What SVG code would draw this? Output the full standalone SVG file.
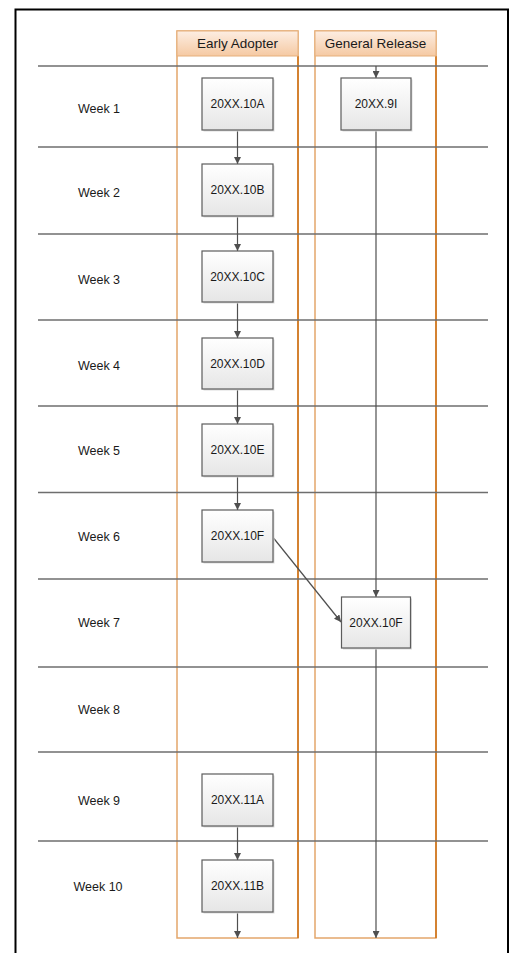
<svg xmlns="http://www.w3.org/2000/svg" width="510" height="953" viewBox="0 0 510 953">
<style>
text{font-family:"Liberation Sans",Arial,sans-serif;fill:#1a1a1a}
.wk{font-size:12.5px;text-anchor:middle}
.bx{font-size:12px;text-anchor:middle}
.hd{font-size:13.5px;text-anchor:middle}
.row{stroke:#6e6e6e;stroke-width:1.5}
.box{fill:url(#boxg);stroke:#5c5c5c;stroke-width:1.2}
.shd{fill:#dcdcdc}
.lane{fill:none;stroke:#e3a66b;stroke-width:1.5}
.laneR{stroke:#cc6f12;stroke-width:1.5}
.hdr{fill:url(#hdg);stroke:#e6b07c;stroke-width:1}
.con{stroke:#4f4f4f;stroke-width:1.2;fill:none;marker-end:url(#ah)}
</style>
<defs>
<linearGradient id="boxg" x1="0" y1="0" x2="0" y2="1"><stop offset="0" stop-color="#ffffff"/><stop offset="1" stop-color="#e6e6e6"/></linearGradient>
<linearGradient id="hdg" x1="0" y1="0" x2="0" y2="1"><stop offset="0" stop-color="#fdeee2"/><stop offset="1" stop-color="#f5c9a3"/></linearGradient>
<marker id="ah" viewBox="0 0 10 10" refX="10" refY="5" markerWidth="7" markerHeight="7" markerUnits="userSpaceOnUse" orient="auto"><path d="M0,0 L10,5 L0,10 z" fill="#4f4f4f"/></marker>
</defs>
<rect x="0" y="0" width="510" height="953" fill="#ffffff"/>
<rect x="15.5" y="9.5" width="492.5" height="960" fill="none" stroke="#000" stroke-width="2"/>
<g id="lane-early">
<rect class="lane" x="177" y="31" width="121" height="907"/>
<line class="laneR" x1="298" y1="56" x2="298" y2="938"/>
<rect class="hdr" x="177" y="31" width="121" height="25"/>
<text class="hd" x="237.5" y="48">Early Adopter</text>
</g>
<g id="lane-general">
<rect class="lane" x="315" y="31" width="121" height="907"/>
<line class="laneR" x1="436" y1="56" x2="436" y2="938"/>
<rect class="hdr" x="315" y="31" width="121" height="25"/>
<text class="hd" x="375.5" y="48">General Release</text>
</g>
<g id="rows">
<line class="row" x1="38" y1="66" x2="488" y2="66"/>
<line class="row" x1="38" y1="147" x2="488" y2="147"/>
<line class="row" x1="38" y1="234" x2="488" y2="234"/>
<line class="row" x1="38" y1="320" x2="488" y2="320"/>
<line class="row" x1="38" y1="406" x2="488" y2="406"/>
<line class="row" x1="38" y1="492.5" x2="488" y2="492.5"/>
<line class="row" x1="38" y1="579" x2="488" y2="579"/>
<line class="row" x1="38" y1="667" x2="488" y2="667"/>
<line class="row" x1="38" y1="752" x2="488" y2="752"/>
<line class="row" x1="38" y1="841" x2="488" y2="841"/>
</g>
<g id="week-labels">
<text class="wk" x="99" y="113">Week 1</text>
<text class="wk" x="99" y="197">Week 2</text>
<text class="wk" x="99" y="284">Week 3</text>
<text class="wk" x="99" y="370">Week 4</text>
<text class="wk" x="99" y="455">Week 5</text>
<text class="wk" x="99" y="541">Week 6</text>
<text class="wk" x="99" y="627">Week 7</text>
<text class="wk" x="99" y="714">Week 8</text>
<text class="wk" x="99" y="805">Week 9</text>
<text class="wk" x="98" y="891">Week 10</text>
</g>
<g id="connectors">
<line class="con" x1="376" y1="66" x2="376" y2="78"/>
<line class="con" x1="237.5" y1="131" x2="237.5" y2="164"/>
<line class="con" x1="237.5" y1="216" x2="237.5" y2="251"/>
<line class="con" x1="237.5" y1="302" x2="237.5" y2="338"/>
<line class="con" x1="237.5" y1="389" x2="237.5" y2="424"/>
<line class="con" x1="237.5" y1="476" x2="237.5" y2="510"/>
<line class="con" x1="272.7" y1="537" x2="341" y2="622"/>
<line class="con" x1="376" y1="131" x2="376" y2="597"/>
<line class="con" x1="376" y1="648" x2="376" y2="938"/>
<line class="con" x1="237.5" y1="826" x2="237.5" y2="860"/>
<line class="con" x1="237.5" y1="912" x2="237.5" y2="938"/>
</g>
<g id="n-10A"><rect class="shd" x="203.5" y="79.5" width="71" height="52"/><rect class="box" x="202" y="78" width="71" height="52"/><text class="bx" x="237.5" y="108">20XX.10A</text></g>
<g id="n-9I"><rect class="shd" x="342.5" y="79.5" width="70" height="52"/><rect class="box" x="341" y="78" width="70" height="52"/><text class="bx" x="376" y="108">20XX.9I</text></g>
<g id="n-10B"><rect class="shd" x="203.5" y="165.5" width="71" height="52"/><rect class="box" x="202" y="164" width="71" height="52"/><text class="bx" x="237.5" y="194">20XX.10B</text></g>
<g id="n-10C"><rect class="shd" x="203.5" y="252.5" width="71" height="51"/><rect class="box" x="202" y="251" width="71" height="51"/><text class="bx" x="237.5" y="281">20XX.10C</text></g>
<g id="n-10D"><rect class="shd" x="203.5" y="339.5" width="71" height="51"/><rect class="box" x="202" y="338" width="71" height="51"/><text class="bx" x="237.5" y="368">20XX.10D</text></g>
<g id="n-10E"><rect class="shd" x="203.5" y="425.5" width="71" height="52"/><rect class="box" x="202" y="424" width="71" height="52"/><text class="bx" x="237.5" y="454">20XX.10E</text></g>
<g id="n-10F-ea"><rect class="shd" x="203.5" y="511.5" width="71" height="52"/><rect class="box" x="202" y="510" width="71" height="52"/><text class="bx" x="237.5" y="540">20XX.10F</text></g>
<g id="n-10F-gr"><rect class="shd" x="343" y="598.5" width="69" height="51"/><rect class="box" x="341.5" y="597" width="69" height="51"/><text class="bx" x="376" y="627">20XX.10F</text></g>
<g id="n-11A"><rect class="shd" x="203.5" y="775.5" width="71" height="52"/><rect class="box" x="202" y="774" width="71" height="52"/><text class="bx" x="237.5" y="804">20XX.11A</text></g>
<g id="n-11B"><rect class="shd" x="203.5" y="861.5" width="71" height="52"/><rect class="box" x="202" y="860" width="71" height="52"/><text class="bx" x="237.5" y="890">20XX.11B</text></g>
</svg>
